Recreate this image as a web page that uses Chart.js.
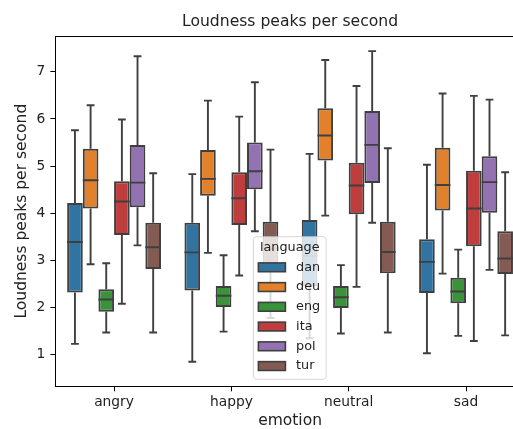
<!DOCTYPE html>
<html>
<head>
<meta charset="utf-8">
<script src="https://cdn.jsdelivr.net/npm/chart.js@4/dist/chart.umd.min.js"></script>
<style>
  html, body { margin: 0; padding: 0; background: #fff; overflow: hidden; }
  #wrap { width: 526px; height: 429px; }
</style>
</head>
<body>
<div id="wrap"><canvas id="boxChart" width="526" height="429"></canvas></div>
<script>
// categories and hue levels
var emotions = ["angry", "happy", "neutral", "sad"];
var languages = ["dan", "deu", "eng", "ita", "pol", "tur"];
var colors = ["#3274a1", "#e1812c", "#3a923a", "#c03d3e", "#9372b2", "#845b53"];
var yTicks = [1, 2, 3, 4, 5, 6, 7];

// per language, one row per emotion: [whisker low, q1, median, q3, whisker high]
var dan = [[1.23, 2.32, 3.39, 4.22, 5.76], [0.85, 2.36, 3.17, 3.80, 4.83], [1.35, 2.45, 3.10, 3.86, 5.26], [1.03, 2.31, 2.97, 3.45, 5.03]];
var deu = [[2.92, 4.10, 4.70, 5.37, 6.29], [3.16, 4.37, 4.73, 5.34, 6.39], [3.95, 5.12, 5.65, 6.23, 7.25], [2.72, 4.06, 4.60, 5.39, 6.54]];
var eng = [[1.47, 1.91, 2.17, 2.39, 2.94], [1.49, 2.01, 2.25, 2.46, 3.11], [1.45, 1.99, 2.22, 2.46, 2.90], [1.40, 2.09, 2.34, 2.63, 3.23]];
var ita = [[2.08, 3.54, 4.25, 4.68, 5.99], [2.68, 3.75, 4.32, 4.87, 6.05], [2.44, 3.98, 4.59, 5.07, 6.70], [1.29, 3.30, 4.10, 4.90, 6.49]];
var pol = [[3.32, 4.13, 4.65, 5.45, 7.33], [3.62, 4.51, 4.89, 5.50, 6.78], [3.80, 4.64, 5.45, 6.17, 7.44], [2.80, 4.01, 4.66, 5.21, 6.41]];
var tur = [[1.47, 2.82, 3.28, 3.80, 4.85], [1.78, 2.80, 3.25, 3.82, 5.35], [1.47, 2.73, 3.18, 3.82, 5.38], [1.41, 2.71, 3.04, 3.62, 4.87]];
var stats = [dan, deu, eng, ita, pol, tur];

var lineColor = "#3f3f3f";
var textColor = "#222";
var font = "'DejaVu Sans', sans-serif";

var datasets = languages.map(function (lang, i) {
    return {
        label: lang,
        data: stats[i].map(function (s) { return [s[1], s[3]]; }),
        stats: stats[i],
        backgroundColor: colors[i],
        borderColor: lineColor,
        borderWidth: 2,
        borderSkipped: false,
        categoryPercentage: 0.8,
        barPercentage: 1.0
    };
});

// whiskers, caps and median lines on top of the floating bars
var whiskerPlugin = {
    id: 'whiskers',
    afterDatasetsDraw: function (chart) {
        var ctx = chart.ctx;
        var y = chart.scales.y;
        ctx.save();
        ctx.strokeStyle = lineColor;
        ctx.lineWidth = 1.9;
        chart.data.datasets.forEach(function (ds, di) {
            var meta = chart.getDatasetMeta(di);
            meta.data.forEach(function (bar, j) {
                var s = ds.stats[j];
                var x = bar.x, half = bar.width / 2, cap = bar.width / 4;
                var pLo = y.getPixelForValue(s[0]), pQ1 = y.getPixelForValue(s[1]);
                var pMed = y.getPixelForValue(s[2]), pQ3 = y.getPixelForValue(s[3]);
                var pHi = y.getPixelForValue(s[4]);
                ctx.beginPath();
                ctx.moveTo(x, pQ1); ctx.lineTo(x, pLo);
                ctx.moveTo(x - cap, pLo); ctx.lineTo(x + cap, pLo);
                ctx.moveTo(x, pQ3); ctx.lineTo(x, pHi);
                ctx.moveTo(x - cap, pHi); ctx.lineTo(x + cap, pHi);
                ctx.moveTo(x - half, pMed); ctx.lineTo(x + half, pMed);
                ctx.stroke();
            });
        });
        ctx.restore();
    }
};

// top spine plus the seaborn-style legend inside the axes
var framePlugin = {
    id: 'frame',
    afterDraw: function (chart) {
        var ctx = chart.ctx, a = chart.chartArea;
        ctx.save();
        ctx.strokeStyle = "#000";
        ctx.lineWidth = 1;
        ctx.beginPath();
        ctx.moveTo(a.left, a.top + 0.5); ctx.lineTo(a.right, a.top + 0.5);
        ctx.stroke();

        var x0 = a.left + 198, w = 72.7, h = 142.6;
        var y0 = a.bottom - 7 - h;
        ctx.beginPath();
        ctx.roundRect(x0, y0, w, h, 3);
        ctx.fillStyle = "rgba(255,255,255,0.8)";
        ctx.fill();
        ctx.strokeStyle = "rgba(204,204,204,0.8)";
        ctx.stroke();

        ctx.fillStyle = textColor;
        ctx.font = "12.8px " + font;
        ctx.textAlign = "center";
        ctx.textBaseline = "middle";
        ctx.fillText("language", x0 + w / 2, y0 + 11);
        ctx.textAlign = "left";
        languages.forEach(function (lang, i) {
            var cy = y0 + 30.6 + i * 19.75;
            ctx.fillStyle = colors[i];
            ctx.fillRect(x0 + 5, cy - 4.4, 27, 8.8);
            ctx.strokeStyle = lineColor;
            ctx.lineWidth = 1.6;
            ctx.strokeRect(x0 + 5, cy - 4.4, 27, 8.8);
            ctx.fillStyle = textColor;
            ctx.fillText(lang, x0 + 42.7, cy);
        });
        ctx.restore();
    }
};

var ctx = document.getElementById("boxChart");
new Chart(ctx, {
    type: 'bar',
    data: { labels: emotions, datasets: datasets },
    options: {
        responsive: false,
        animation: false,
        events: [],
        layout: { padding: { left: 0, right: 1.3, top: 0, bottom: 0 } },
        plugins: {
            legend: { display: false },
            tooltip: { enabled: false },
            title: {
                display: true,
                text: "Loudness peaks per second",
                fullSize: false,
                color: textColor,
                font: { family: font, size: 15.6, weight: 'normal', lineHeight: 1.2 },
                padding: { top: 12.6, bottom: 4.7 }
            }
        },
        scales: {
            x: {
                offset: true,
                grid: { display: true, drawOnChartArea: false, offset: false, tickLength: 5, tickColor: "#000", lineWidth: 1 },
                border: { display: true, color: "#000", width: 1 },
                ticks: { color: textColor, font: { family: font, size: 13.8 }, padding: 3 },
                title: { display: true, text: "emotion", color: textColor, font: { family: font, size: 15.5, lineHeight: 1 }, padding: 0 },
                afterFit: function (scale) { scale.height = 42.7; }
            },
            y: {
                min: 0.33,
                max: 7.76,
                grid: { display: true, drawOnChartArea: false, tickLength: 5, tickColor: "#000", lineWidth: 1 },
                border: { display: true, color: "#000", width: 1 },
                ticks: { color: textColor, font: { family: font, size: 13.8 }, padding: 5 },
                afterBuildTicks: function (scale) {
                    scale.ticks = yTicks.map(function (v) { return { value: v }; });
                },
                title: { display: true, text: "Loudness peaks per second", color: textColor, font: { family: font, size: 15.5, lineHeight: 1.2 }, padding: { top: 12.7, bottom: 0 } },
                afterFit: function (scale) { scale.width = 55.4; }
            }
        }
    },
    plugins: [whiskerPlugin, framePlugin]
});
</script>
</body>
</html>
